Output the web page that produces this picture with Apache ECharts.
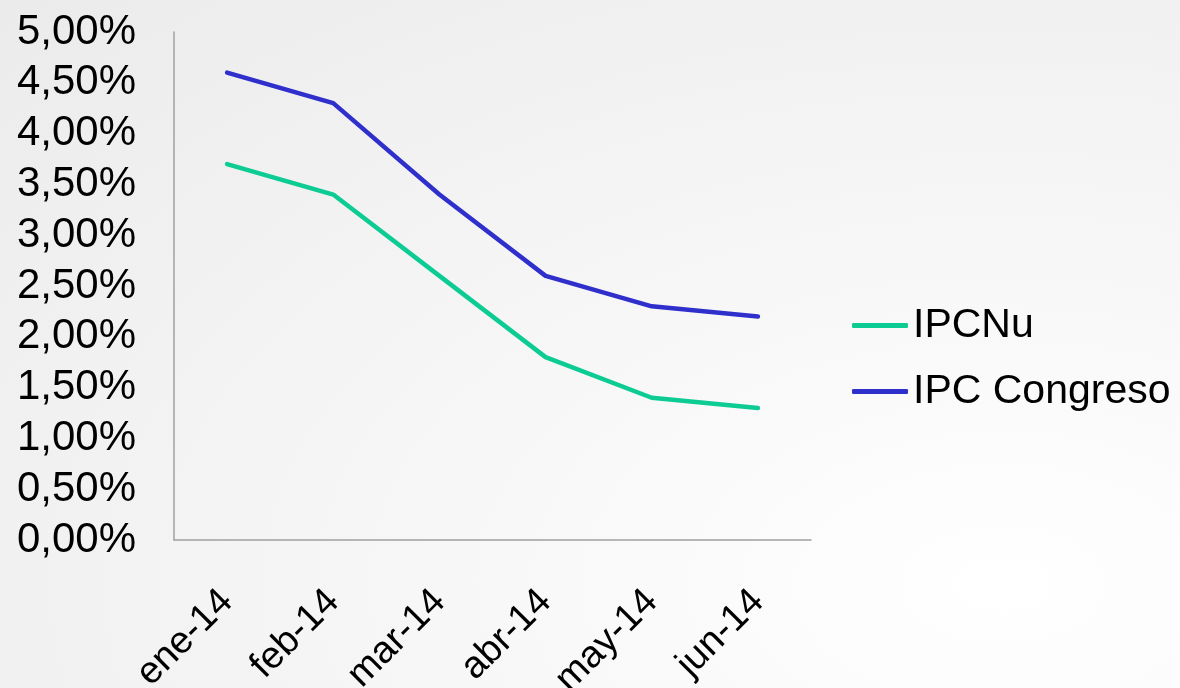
<!DOCTYPE html>
<html>
<head>
<meta charset="utf-8">
<script src="https://cdn.jsdelivr.net/npm/echarts@6/dist/echarts.min.js"></script>
<style>
html,body{margin:0;padding:0;}
body{width:1180px;height:688px;background:radial-gradient(ellipse at 85% 85%, #ffffff 0%, #f7f7f7 40%, #ebebec 100%);}
#c{width:1180px;height:688px;}
</style>
</head>
<body>
<div id="c"></div>
<script>
const categories = ['ene-14','feb-14','mar-14','abr-14','may-14','jun-14'];
const ipcNu = [3.7, 3.4, 2.6, 1.8, 1.4, 1.3];
const ipcCongreso = [4.6, 4.3, 3.4, 2.6, 2.3, 2.2];
const seriesNames = ['IPCNu', 'IPC Congreso'];
const colors = ['#0dcc93', '#2f2fcc'];

const chart = echarts.init(document.getElementById('c'), null, {renderer:'canvas'});
const font = 'Liberation Sans, Arial, sans-serif';
chart.setOption({
  backgroundColor: 'transparent',
  animation: false,
  grid: {left: 174, right: 369, top: 32, bottom: 148, containLabel: false, outerBoundsMode: 'none'},
  legend: {
    orient: 'vertical', left: 847, top: 300,
    itemWidth: 56, itemHeight: 5, itemGap: 25,
    icon: 'roundRect',
    textStyle: {fontFamily: font, fontSize: 41, color: '#000'},
    data: seriesNames
  },
  xAxis: {
    type: 'category', data: categories, boundaryGap: true,
    axisLine: {show: true, lineStyle: {color: '#a0a0a0', width: 1.5}},
    axisTick: {show: false},
    axisLabel: {rotate: 45, margin: 56, fontFamily: font, fontSize: 38, color: '#000', interval: 0, hideOverlap: false}
  },
  yAxis: {
    type: 'value', min: 0, max: 5, interval: 0.5,
    axisLine: {show: true, lineStyle: {color: '#a0a0a0', width: 1.5}},
    axisTick: {show: false},
    splitLine: {show: false},
    axisLabel: {margin: 38, fontFamily: font, fontSize: 42, color: '#000',
      formatter: v => v.toFixed(2).replace('.', ',') + '%'}
  },
  series: [
    {name: seriesNames[0], type: 'line', data: ipcNu, symbol: 'none', color: colors[0], lineStyle: {width: 4.5, color: colors[0], cap: 'round', join: 'round'}},
    {name: seriesNames[1], type: 'line', data: ipcCongreso, symbol: 'none', color: colors[1], lineStyle: {width: 4.5, color: colors[1], cap: 'round', join: 'round'}}
  ]
});
</script>
</body>
</html>
